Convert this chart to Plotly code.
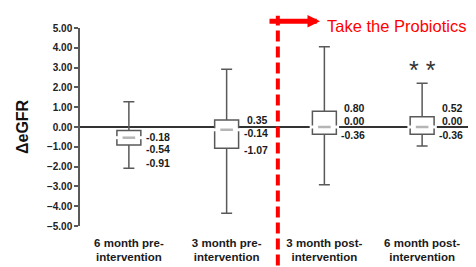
import plotly.graph_objects as go

categories = ["6 month pre-<br>intervention", "3 month pre-<br>intervention",
              "3 month post-<br>intervention", "6 month post-<br>intervention"]
upper_whisker = [1.28, 2.92, 4.05, 2.21]
q3 = [-0.18, 0.35, 0.80, 0.52]
median = [-0.54, -0.14, 0.00, 0.00]
q1 = [-0.91, -1.07, -0.36, -0.36]
lower_whisker = [-2.08, -4.36, -2.92, -0.96]
y_ticks = [5, 4, 3, 2, 1, 0, -1, -2, -3, -4, -5]

# label vertical nudges in pixels (q3, median, q1) for each box
label_shift = [(-6, -11, -17.5), (0, -3.5, -2), (3, 6.5, -1), (8.5, 6.5, -1)]

FONT = "Liberation Sans, Arial, sans-serif"
BOX_C = "#595959"

fig = go.Figure()
fig.add_trace(go.Box(
    x=categories, q1=q1, median=median, q3=q3,
    lowerfence=lower_whisker, upperfence=upper_whisker,
    width=0.245, whiskerwidth=0.46,
    fillcolor="white", line=dict(color=BOX_C, width=1.5),
    boxpoints=False, hoverinfo="skip", showlegend=False,
))
# hide default median line, then draw short light-grey median
fig.add_trace(go.Scatter(
    x=categories, y=median, mode="markers", hoverinfo="skip", showlegend=False,
    marker=dict(symbol="line-ew", size=21, line=dict(color="white", width=3)),
))
fig.add_trace(go.Scatter(
    x=categories, y=median, mode="markers", hoverinfo="skip", showlegend=False,
    marker=dict(symbol="line-ew", size=9, line=dict(color="#b5b5b5", width=2.5)),
))

ann = []
for i, c in enumerate(categories):
    for v, s in zip((q3[i], median[i], q1[i]), label_shift[i]):
        ann.append(dict(x=c, y=v, xref="x", yref="y", text=f"{v:.2f}",
                        showarrow=False, xanchor="right", yanchor="middle",
                        xshift=43, yshift=s,
                        font=dict(family=FONT, size=10.5, color="#1a1a1a", weight="bold")))

ann.append(dict(x=categories[3], y=upper_whisker[3], xref="x", yref="y", text="* *",
                showarrow=False, xanchor="center", yanchor="bottom", yshift=-3,
                font=dict(family=FONT, size=25, color="#333333")))

ann.append(dict(x=0, y=0.5, xref="paper", yref="paper", text="ΔeGFR", textangle=-90,
                showarrow=False, xanchor="center", yanchor="middle", xshift=-58,
                font=dict(family=FONT, size=16, color="#111111", weight="bold")))

ann.append(dict(x=0.6138, y=1.0335, xref="paper", yref="paper", text="",
                showarrow=True, ax=-52, ay=0, axref="pixel", ayref="pixel",
                arrowhead=2, arrowsize=0.5, arrowwidth=5, arrowcolor="#ff0000"))
ann.append(dict(x=0.626, y=1.0096, xref="paper", yref="paper", text="Take the Probiotics",
                showarrow=False, xanchor="left", yanchor="middle",
                font=dict(family=FONT, size=16.5, color="#ff0000")))

fig.update_layout(
    width=476, height=267,
    margin=dict(l=72, r=13, t=20, b=38),
    paper_bgcolor="white", plot_bgcolor="white",
    showlegend=False,
    annotations=ann,
    shapes=[dict(type="line", xref="paper", yref="paper", x0=0.506, x1=0.506,
                 y0=-0.2, y1=1.062, line=dict(color="#ff0000", width=4, dash="11px,5px"))],
    xaxis=dict(range=[-0.5, 3.5], showline=False, ticks="", showgrid=False,
               zeroline=False, ticklabelstandoff=8,
               tickfont=dict(family=FONT, size=11.5, color="#1a1a1a", weight="bold")),
    yaxis=dict(range=[-5, 5], tickvals=y_ticks, tickformat=".2f",
               showline=True, linecolor=BOX_C, linewidth=1.5,
               ticks="outside", ticklen=4, tickcolor=BOX_C, tickwidth=1.5,
               showgrid=False, zeroline=True, zerolinecolor="#333333", zerolinewidth=1.5,
               tickfont=dict(family=FONT, size=10, color="#222222", weight="bold")),
)

fig.write_html("out.html")
